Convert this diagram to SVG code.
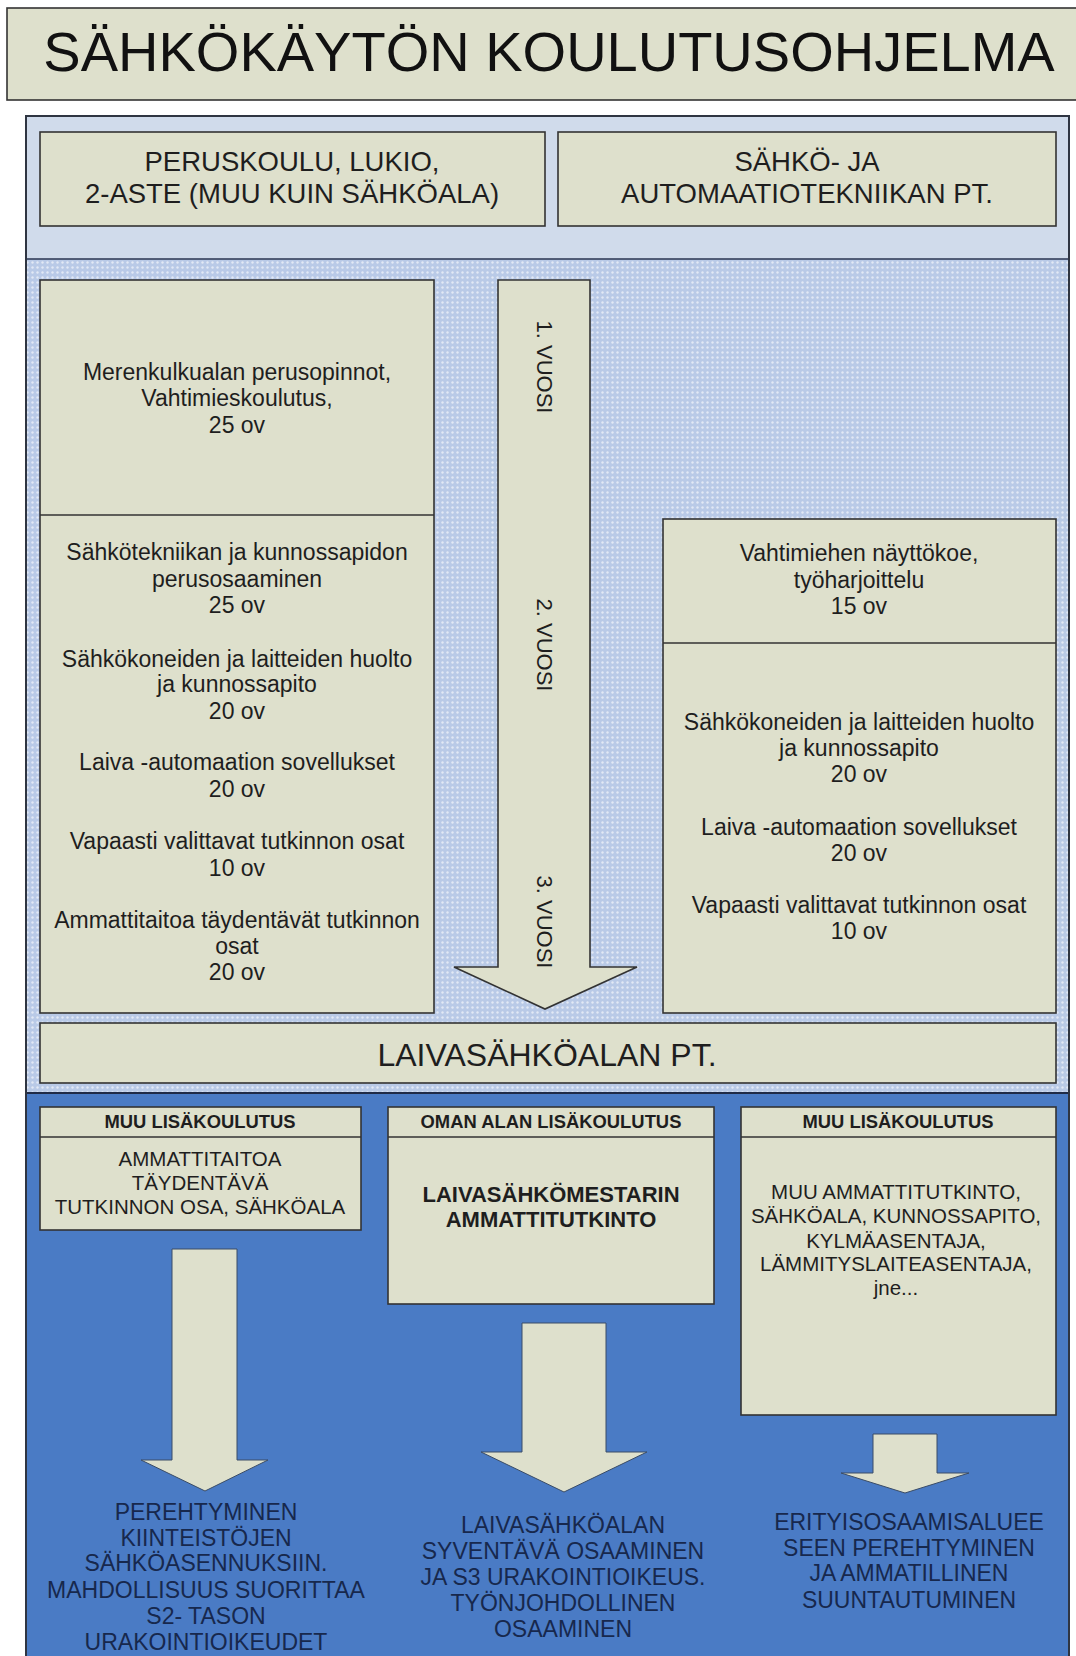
<svg xmlns="http://www.w3.org/2000/svg" width="1076" height="1656" viewBox="0 0 1076 1656">
<defs>
<pattern id="dots" width="5" height="5" patternUnits="userSpaceOnUse">
<rect width="5" height="5" fill="#b9cae7"/>
<circle cx="2.5" cy="2.5" r="1.2" fill="#e2e9f5"/>
</pattern>
<style>
text{font-family:"Liberation Sans",Arial,sans-serif;text-anchor:middle;fill:#1e1e1e}
.box{fill:#dee0cc;stroke:#333;stroke-width:1.6}
.line{stroke:#333;stroke-width:1.6}
.t27{font-size:27.5px}
.t23{font-size:23px}
.t21{font-size:20.5px}
.hb{font-size:18.4px;font-weight:bold}
.bb{font-size:22px;font-weight:bold}
.nav{font-size:23px;fill:#17284d}
.arr{fill:#dee0cc;stroke:#333;stroke-width:1.6}
.arrb{fill:#dee0cc;stroke:#3a4c66;stroke-width:1}
</style>
</defs>
<rect width="1076" height="1656" fill="#ffffff"/>

<g id="title">
<rect x="7" y="8" width="1080" height="92" class="box"/>
<text x="549" y="71" font-size="56" style="fill:#111">SÄHKÖKÄYTÖN KOULUTUSOHJELMA</text>
</g>

<g id="background">
<rect x="26" y="116" width="1043" height="143" fill="#d0dbeb"/>
<rect x="26" y="259" width="1043" height="834" fill="url(#dots)"/>
<rect x="26" y="1093" width="1043" height="570" fill="#4a7bc5"/>
<line x1="26" y1="259" x2="1069" y2="259" stroke="#2a3550" stroke-width="1.5"/>
<line x1="26" y1="1093" x2="1069" y2="1093" stroke="#1f2b48" stroke-width="2"/>
<rect x="26" y="116" width="1043" height="1560" fill="none" stroke="#2f3542" stroke-width="2"/>
</g>

<g id="peruskoulu">
<rect x="40" y="132" width="505" height="94" class="box"/>
<text class="t27" x="292" y="171">PERUSKOULU, LUKIO,</text>
<text class="t27" x="292" y="203">2-ASTE (MUU KUIN SÄHKÖALA)</text>
</g>

<g id="sahko-automaatio">
<rect x="558" y="132" width="498" height="94" class="box"/>
<text class="t27" x="807" y="171">SÄHKÖ- JA</text>
<text class="t27" x="807" y="203">AUTOMAATIOTEKNIIKAN PT.</text>
</g>

<g id="connectors">
<polygon class="arr" points="498,280 590,280 590,967 637,967 545,1009 454,967 498,967"/>
<polygon class="arrb" points="172,1249 237,1249 237,1460 268,1460 205,1491 141,1460 172,1460"/>
<polygon class="arrb" points="522,1323 606,1323 606,1452 647,1452 564,1492 481,1452 522,1452"/>
<polygon class="arrb" points="873,1434 937,1434 937,1473 969,1473 905,1493 841,1473 873,1473"/>
</g>

<g id="vuosi-labels">
<text class="t23" style="font-size:22px" transform="translate(545,367) rotate(90)" x="0" y="8">1. VUOSI</text>
<text class="t23" style="font-size:22px" transform="translate(545,645) rotate(90)" x="0" y="8">2. VUOSI</text>
<text class="t23" style="font-size:22px" transform="translate(545,922) rotate(90)" x="0" y="8">3. VUOSI</text>
</g>

<g id="left-studies">
<rect x="40" y="280" width="394" height="733" class="box"/>
<line x1="40" y1="515" x2="434" y2="515" class="line"/>
<text class="t23" x="237" y="380">Merenkulkualan perusopinnot,</text>
<text class="t23" x="237" y="406">Vahtimieskoulutus,</text>
<text class="t23" x="237" y="433">25 ov</text>
<text class="t23" x="237" y="560">Sähkötekniikan ja kunnossapidon</text>
<text class="t23" x="237" y="587">perusosaaminen</text>
<text class="t23" x="237" y="613">25 ov</text>
<text class="t23" x="237" y="667">Sähkökoneiden ja laitteiden huolto</text>
<text class="t23" x="237" y="692">ja kunnossapito</text>
<text class="t23" x="237" y="719">20 ov</text>
<text class="t23" x="237" y="770">Laiva -automaation sovellukset</text>
<text class="t23" x="237" y="797">20 ov</text>
<text class="t23" x="237" y="849">Vapaasti valittavat tutkinnon osat</text>
<text class="t23" x="237" y="876">10 ov</text>
<text class="t23" x="237" y="928">Ammattitaitoa täydentävät tutkinnon</text>
<text class="t23" x="237" y="954">osat</text>
<text class="t23" x="237" y="980">20 ov</text>
</g>

<g id="right-studies">
<rect x="663" y="519" width="393" height="494" class="box"/>
<line x1="663" y1="643" x2="1056" y2="643" class="line"/>
<text class="t23" x="859" y="561">Vahtimiehen näyttökoe,</text>
<text class="t23" x="859" y="588">työharjoittelu</text>
<text class="t23" x="859" y="614">15 ov</text>
<text class="t23" x="859" y="730">Sähkökoneiden ja laitteiden huolto</text>
<text class="t23" x="859" y="756">ja kunnossapito</text>
<text class="t23" x="859" y="782">20 ov</text>
<text class="t23" x="859" y="835">Laiva -automaation sovellukset</text>
<text class="t23" x="859" y="861">20 ov</text>
<text class="t23" x="859" y="913">Vapaasti valittavat tutkinnon osat</text>
<text class="t23" x="859" y="939">10 ov</text>
</g>

<g id="laivasahkoalan-pt">
<rect x="40" y="1023" width="1016" height="60" class="box"/>
<text x="547" y="1066" font-size="32">LAIVASÄHKÖALAN PT.</text>
</g>

<g id="muu-lisakoulutus-1">
<rect x="40" y="1107" width="321" height="123" class="box"/>
<line x1="40" y1="1137" x2="361" y2="1137" class="line"/>
<text class="hb" x="200" y="1128">MUU LISÄKOULUTUS</text>
<text class="t21" x="200" y="1166">AMMATTITAITOA</text>
<text class="t21" x="200" y="1190">TÄYDENTÄVÄ</text>
<text class="t21" x="200" y="1214">TUTKINNON OSA, SÄHKÖALA</text>
</g>

<g id="oman-alan-lisakoulutus">
<rect x="388" y="1107" width="326" height="197" class="box"/>
<line x1="388" y1="1137" x2="714" y2="1137" class="line"/>
<text class="hb" x="551" y="1128">OMAN ALAN LISÄKOULUTUS</text>
<text class="bb" x="551" y="1202">LAIVASÄHKÖMESTARIN</text>
<text class="bb" x="551" y="1227">AMMATTITUTKINTO</text>
</g>

<g id="muu-lisakoulutus-2">
<rect x="741" y="1107" width="315" height="308" class="box"/>
<line x1="741" y1="1137" x2="1056" y2="1137" class="line"/>
<text class="hb" x="898" y="1128">MUU LISÄKOULUTUS</text>
<text class="t21" x="896" y="1199">MUU AMMATTITUTKINTO,</text>
<text class="t21" x="896" y="1223">SÄHKÖALA, KUNNOSSAPITO,</text>
<text class="t21" x="896" y="1248">KYLMÄASENTAJA,</text>
<text class="t21" x="896" y="1271">LÄMMITYSLAITEASENTAJA,</text>
<text class="t21" x="896" y="1295">jne...</text>
</g>

<g id="outcome-left">
<text class="nav" x="206" y="1520">PEREHTYMINEN</text>
<text class="nav" x="206" y="1546">KIINTEISTÖJEN</text>
<text class="nav" x="206" y="1571">SÄHKÖASENNUKSIIN.</text>
<text class="nav" x="206" y="1598">MAHDOLLISUUS SUORITTAA</text>
<text class="nav" x="206" y="1624">S2- TASON</text>
<text class="nav" x="206" y="1650">URAKOINTIOIKEUDET</text>
</g>

<g id="outcome-middle">
<text class="nav" x="563" y="1533">LAIVASÄHKÖALAN</text>
<text class="nav" x="563" y="1559">SYVENTÄVÄ OSAAMINEN</text>
<text class="nav" x="563" y="1585">JA S3 URAKOINTIOIKEUS.</text>
<text class="nav" x="563" y="1611">TYÖNJOHDOLLINEN</text>
<text class="nav" x="563" y="1637">OSAAMINEN</text>
</g>

<g id="outcome-right">
<text class="nav" x="909" y="1530">ERITYISOSAAMISALUEE</text>
<text class="nav" x="909" y="1556">SEEN PEREHTYMINEN</text>
<text class="nav" x="909" y="1581">JA AMMATILLINEN</text>
<text class="nav" x="909" y="1608">SUUNTAUTUMINEN</text>
</g>
</svg>
